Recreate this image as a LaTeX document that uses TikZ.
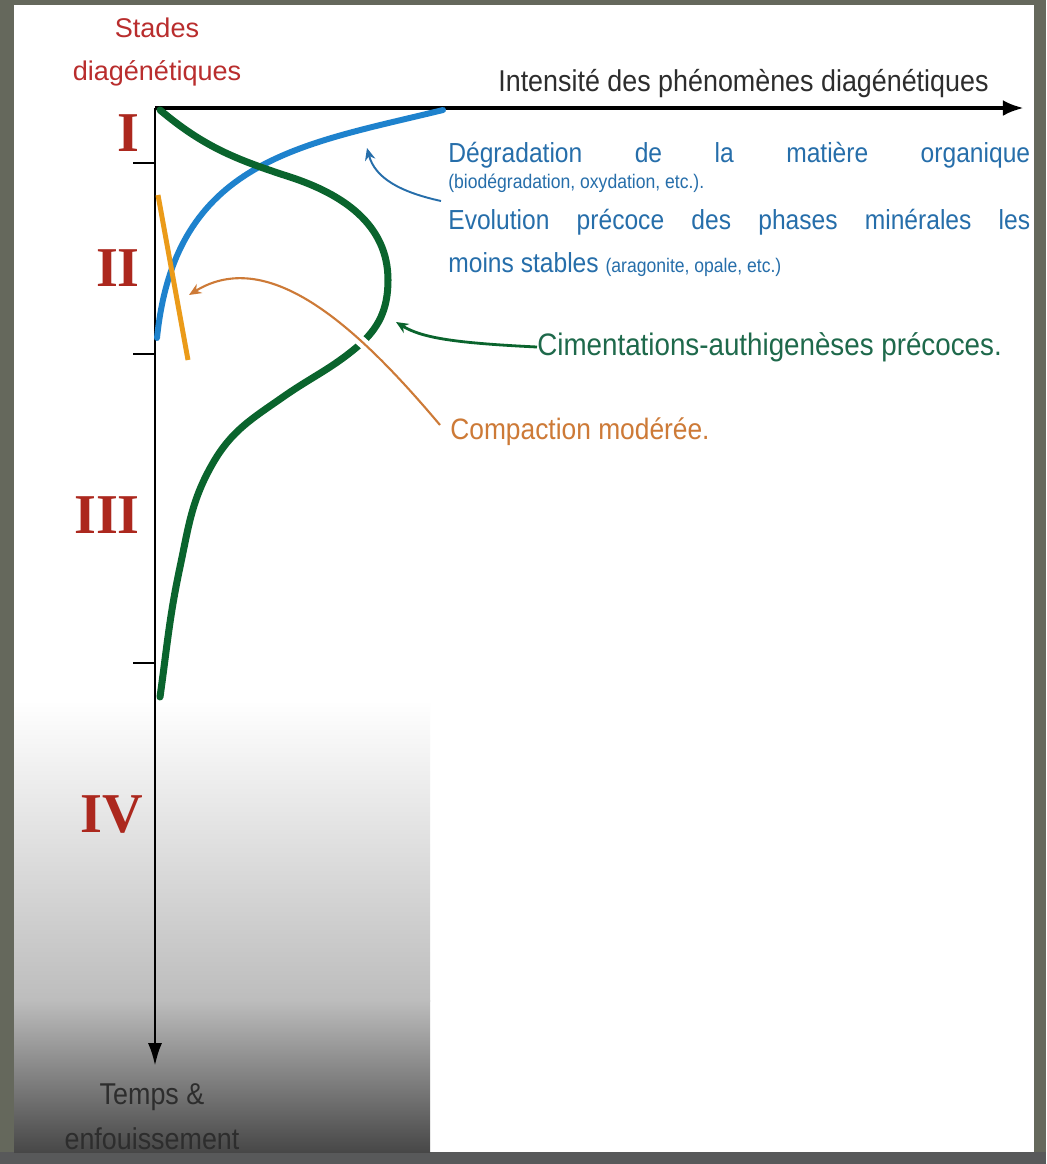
\documentclass[tikz,border=0pt]{standalone}
\usepackage{fontspec}
\setmainfont{Liberation Sans}
\newfontfamily\stagefont{Liberation Serif}
\usetikzlibrary{arrows.meta}
\definecolor{bordgrey}{RGB}{101,104,92}
\definecolor{botgrey}{RGB}{88,89,90}
\definecolor{stagered}{RGB}{172,40,30}
\definecolor{titlered}{RGB}{185,45,45}
\definecolor{curveblue}{RGB}{30,130,205}
\definecolor{textblue}{RGB}{38,110,170}
\definecolor{curvegreen}{RGB}{10,100,45}
\definecolor{textgreen}{RGB}{30,105,75}
\definecolor{curveorange}{RGB}{235,155,25}
\definecolor{textorange}{RGB}{205,122,55}
\definecolor{textgrey}{RGB}{45,45,45}
\tikzset{
  stage/.style={text=stagered, font=\stagefont\bfseries\fontsize{32}{32}\selectfont},
  axislabel/.style={text=textgrey, inner sep=0pt, yscale=1.12},
  bluetxt/.style={anchor=west, inner sep=0pt, yscale=1.12, text=textblue, font=\fontsize{14}{16}\selectfont},
  smalltxt/.style={font=\fontsize{10}{12}\selectfont},
  pointer/.style={-{Stealth[length=7pt,width=6pt]}},
  tickmark/.style={line width=1.6pt}
}
\begin{document}
\begin{tikzpicture}[x=0.02cm,y=-0.02cm]
\fill[bordgrey] (0,0) rectangle (1046,1164);
\useasboundingbox (0,0) rectangle (1046,1164);
\fill[botgrey] (0,1152) rectangle (1046,1164);
\fill[white] (14,5) rectangle (1034,1152);
\shade[top color=white, bottom color=black!26] (14,700) rectangle (430,1001);
\shade[top color=black!26, bottom color=black!72] (14,1000) rectangle (430,1152);
\coordinate (org) at (155,108);
\coordinate (xend) at (1024,108);
\coordinate (yend) at (155,1066);
\draw[line width=2.3pt, -{Latex[length=12pt,width=9pt]}] (org) -- (xend);
\draw[line width=1.7pt, -{Latex[length=13pt,width=8pt]}] (org) -- (yend);
\foreach \ty in {163,354,663}
  \draw[tickmark] (133,\ty) -- (155,\ty);
\node[stage] (st1) at (128,133) {I};
\node[stage] (st2) at (118,268) {II};
\node[stage] (st3) at (107,515) {III};
\node[stage] (st4) at (112,815) {IV};
\node[text=titlered, align=center, font=\fontsize{15.4}{24}\selectfont] (title) at (157,52) {Stades\\diagénétiques};
\node[axislabel, anchor=west, font=\fontsize{15.3}{18}\selectfont] (intens) at (498,84) {Intensité des phénomènes diagénétiques};
\node[axislabel, align=center, font=\fontsize{15.3}{23}\selectfont] (temps) at (152,1117) {Temps \&\\enfouissement};
\draw[curveblue, line width=3.4pt, line cap=round] (443,110) .. controls (300,145) and (175,160) .. (157,338);
\draw[curvegreen, line width=4pt, line cap=round] (160,110) to[out=-40,in=162] (290,177) to[out=-18,in=90] (388,280) to[out=-90,in=40] (357,347) to[out=-140,in=35] (283,397) to[out=-145,in=60] (213,463) to[out=-120,in=78] (180,567) to[out=-102,in=82] (160,697);
\draw[curveorange, line width=2.8pt] (158,195) -- (188,360);
\node[bluetxt] (degr) at (448,155) {\makebox[11.64cm][s]{Dégradation de la matière organique}};
\node[bluetxt, smalltxt] (biod) at (448,183) {(biodégradation, oxydation, etc.).};
\node[bluetxt] (evol) at (448,222) {\makebox[11.64cm][s]{Evolution précoce des phases minérales les}};
\node[bluetxt] (moins) at (448,265) {moins stables {\fontsize{10}{12}\selectfont (aragonite, opale, etc.)}};
\node[anchor=west, inner sep=0pt, yscale=1.12, text=textgreen, font=\fontsize{15.8}{18}\selectfont] (cim) at (537,347) {Cimentations-authigenèses précoces.};
\node[anchor=west, inner sep=0pt, yscale=1.12, text=textorange, font=\fontsize{15}{18}\selectfont] (comp) at (450,432) {Compaction modérée.};
\coordinate (btail) at (441,201);
\coordinate (btip) at (367,148);
\coordinate (gtip) at (396,322);
\coordinate (otail) at (440,425);
\coordinate (otip) at (189,295);
\draw[pointer, textblue, line width=1.1pt] (btail) .. controls (400,192) and (375,178) .. (btip);
\draw[pointer, curvegreen, line width=1.6pt] (cim.west) .. controls (455,343) and (422,338) .. (gtip);
\draw[pointer, textorange, line width=1.2pt, preaction={draw=white, line width=6pt, -}] (otail) .. controls (360,330) and (270,245) .. (otip);
\end{tikzpicture}
\end{document}
